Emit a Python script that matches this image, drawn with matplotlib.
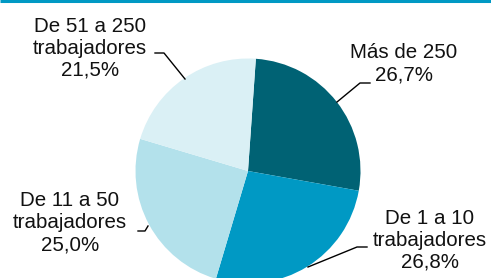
import matplotlib
matplotlib.use("Agg")
import matplotlib.pyplot as plt

plt.rcParams["font.family"] = ["Liberation Sans", "DejaVu Sans"]

W, H = 491, 278

categories = ["Más de 250", "De 1 a 10\ntrabajadores", "De 11 a 50\ntrabajadores",
              "De 51 a 250\ntrabajadores"]
shares = [26.7, 26.8, 25.0, 21.5]
colors = ["#006274", "#0099c4", "#b3e1eb", "#daf0f5"]

# label centre (px from top-left) and leader line points (px)
label_pos = [(404, 64), (430, 240), (70, 223), (90, 48)]
leaders = [
    [(370, 83), (360, 83), (337, 102)],
    [(367, 247), (357, 247), (308, 267)],
    [(138, 231), (145, 231), (148, 226)],
    [(155, 53), (164, 53), (185, 79)],
]


def px(x, y):
    return x, H - y


fig = plt.figure(figsize=(W / 100, H / 100), dpi=100)
ax = fig.add_axes([0, 0, 1, 1])
cx, cy = px(248, 171)
ax.pie(shares, colors=colors, startangle=86, counterclock=False,
       center=(cx, cy), radius=112.5,
       wedgeprops=dict(linewidth=0))
ax.set_xlim(0, W)
ax.set_ylim(0, H)
ax.set_aspect("equal")
ax.axis("off")

for cat, val, (lx, ly), pts in zip(categories, shares, label_pos, leaders):
    txt = f"{cat}\n{val:.1f}%".replace(".", ",")
    ax.text(*px(lx, ly), txt, ha="center", va="center", fontsize=14.8,
            color="#111111", linespacing=1.2)
    xs, ys = zip(*[px(x, y) for x, y in pts])
    ax.plot(xs, ys, color="black", lw=1.0)

ax.plot([0, W], [H - 1, H - 1], color="#0099c4", lw=2.2, solid_capstyle="butt")

plt.savefig("out.png", dpi=100)
plt.close()
